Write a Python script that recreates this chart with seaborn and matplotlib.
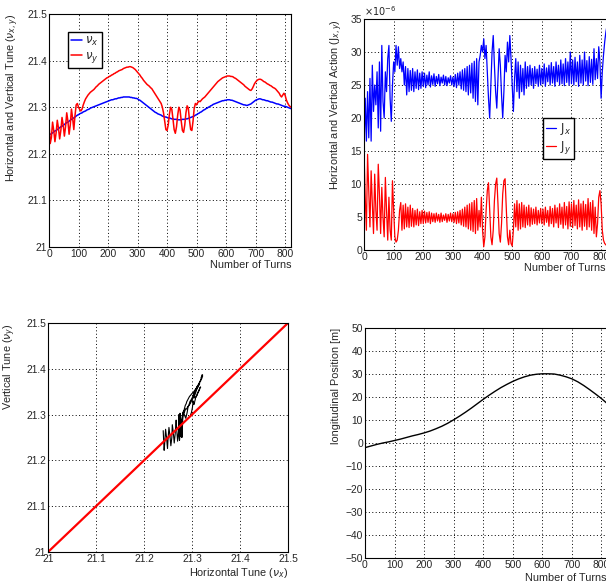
import matplotlib
matplotlib.use("Agg")
import matplotlib.pyplot as plt
import numpy as np
import seaborn as sns
from matplotlib.ticker import MultipleLocator, FormatStrFormatter

# turn number of every sample (one sample every 4 turns)
turns = np.arange(0, 821, 4)

# horizontal tune
nu_x = [
    21.240, 21.242, 21.243, 21.245, 21.247, 21.249, 21.250, 21.252, 21.254, 21.256, 21.258, 21.259, 21.261,
    21.263, 21.265, 21.267, 21.268, 21.270, 21.272, 21.274, 21.276, 21.277, 21.279, 21.281, 21.283,
    21.284, 21.286, 21.287, 21.288, 21.290, 21.291, 21.292, 21.294, 21.295, 21.296, 21.298, 21.299, 21.300,
    21.301, 21.302, 21.303, 21.304, 21.305, 21.306, 21.307, 21.308, 21.309, 21.310, 21.311, 21.312,
    21.313, 21.314, 21.315, 21.316, 21.316, 21.317, 21.318, 21.318, 21.319, 21.320, 21.320, 21.321, 21.321,
    21.322, 21.322, 21.322, 21.322, 21.322, 21.322, 21.321, 21.321, 21.320, 21.320, 21.319, 21.319,
    21.318, 21.316, 21.315, 21.313, 21.311, 21.309, 21.307, 21.305, 21.303, 21.301, 21.299, 21.297, 21.295,
    21.293, 21.291, 21.289, 21.288, 21.286, 21.285, 21.284, 21.283, 21.281, 21.280, 21.279, 21.279,
    21.278, 21.277, 21.277, 21.276, 21.275, 21.275, 21.274, 21.274, 21.274, 21.273, 21.273, 21.273, 21.273,
    21.274, 21.274, 21.274, 21.275, 21.275, 21.276, 21.277, 21.278, 21.279, 21.280, 21.281, 21.283,
    21.284, 21.286, 21.287, 21.289, 21.290, 21.292, 21.294, 21.295, 21.297, 21.298, 21.300, 21.301, 21.303,
    21.304, 21.306, 21.307, 21.308, 21.309, 21.310, 21.311, 21.312, 21.313, 21.314, 21.314, 21.315,
    21.315, 21.316, 21.316, 21.316, 21.315, 21.315, 21.314, 21.313, 21.312, 21.311, 21.310, 21.309, 21.308,
    21.307, 21.306, 21.305, 21.305, 21.304, 21.304, 21.305, 21.306, 21.307, 21.309, 21.311, 21.313,
    21.315, 21.316, 21.317, 21.318, 21.318, 21.317, 21.316, 21.316, 21.315, 21.314, 21.314, 21.313, 21.312,
    21.311, 21.311, 21.310, 21.309, 21.308, 21.307, 21.307, 21.306, 21.305, 21.304, 21.303, 21.302,
    21.302, 21.301, 21.300, 21.299, 21.298, 21.297,
]

# vertical tune
nu_y = [
    21.265, 21.222, 21.235, 21.268, 21.250, 21.226, 21.245, 21.272, 21.255, 21.232, 21.250, 21.278, 21.262,
    21.238, 21.258, 21.288, 21.270, 21.242, 21.262, 21.296, 21.276, 21.252, 21.282, 21.305, 21.308,
    21.300, 21.295, 21.292, 21.296, 21.305, 21.312, 21.318, 21.322, 21.326, 21.329, 21.332, 21.334, 21.336,
    21.338, 21.341, 21.344, 21.346, 21.349, 21.351, 21.353, 21.355, 21.357, 21.359, 21.361, 21.363,
    21.364, 21.366, 21.367, 21.369, 21.370, 21.372, 21.373, 21.375, 21.376, 21.378, 21.379, 21.380, 21.381,
    21.383, 21.384, 21.385, 21.386, 21.386, 21.387, 21.387, 21.386, 21.385, 21.383, 21.381, 21.378,
    21.375, 21.372, 21.369, 21.365, 21.362, 21.358, 21.355, 21.352, 21.349, 21.347, 21.345, 21.342, 21.340,
    21.336, 21.332, 21.328, 21.324, 21.320, 21.316, 21.312, 21.308, 21.300, 21.288, 21.270, 21.252,
    21.250, 21.262, 21.285, 21.300, 21.296, 21.275, 21.252, 21.244, 21.258, 21.283, 21.300, 21.294, 21.270,
    21.250, 21.246, 21.262, 21.288, 21.303, 21.298, 21.272, 21.252, 21.250, 21.270, 21.298, 21.308,
    21.305, 21.310, 21.313, 21.312, 21.315, 21.318, 21.320, 21.322, 21.325, 21.328, 21.331, 21.334, 21.337,
    21.340, 21.343, 21.346, 21.349, 21.352, 21.355, 21.357, 21.359, 21.361, 21.363, 21.364, 21.365,
    21.366, 21.367, 21.367, 21.367, 21.366, 21.366, 21.365, 21.363, 21.362, 21.360, 21.358, 21.356, 21.354,
    21.352, 21.350, 21.348, 21.345, 21.343, 21.341, 21.339, 21.337, 21.336, 21.339, 21.344, 21.350,
    21.354, 21.357, 21.359, 21.360, 21.360, 21.359, 21.357, 21.355, 21.354, 21.352, 21.350, 21.349, 21.347,
    21.346, 21.344, 21.342, 21.341, 21.339, 21.336, 21.333, 21.330, 21.325, 21.322, 21.326, 21.330,
    21.326, 21.316, 21.310, 21.305, 21.302, 21.300,
]

# horizontal action, in units of 1e-6
j_x = [
    15.0, 23.0, 16.5, 24.0, 17.0, 26.0, 16.5, 28.0, 21.0, 25.0, 22.0, 27.0, 18.5,
    28.5, 18.0, 31.0, 22.5, 20.0, 27.0, 24.0, 29.0, 31.0, 23.0, 19.5, 25.0,
    28.5, 27.0, 31.0, 28.0, 30.8, 27.5, 29.0, 27.0, 28.5, 25.0, 27.8, 23.5, 27.5,
    24.0, 27.2, 24.2, 27.5, 24.0, 27.0, 24.5, 27.3, 24.3, 26.8, 24.5, 27.0,
    24.8, 26.8, 24.6, 26.5, 25.0, 27.0, 24.7, 26.4, 25.1, 26.7, 24.8, 26.3, 25.2,
    26.6, 24.9, 26.2, 25.3, 26.5, 25.0, 26.3, 24.9, 26.1, 25.3, 26.4, 25.0,
    26.2, 24.8, 26.6, 24.6, 26.8, 25.0, 27.0, 24.4, 27.3, 24.2, 27.5, 24.0, 27.8,
    23.5, 28.0, 23.8, 28.3, 23.0, 28.6, 22.5, 29.0, 22.0, 28.5, 29.5, 31.0,
    30.0, 32.0, 29.0, 31.0, 27.0, 23.0, 20.0, 25.0, 30.0, 32.5, 28.0, 24.0, 21.5,
    26.0, 30.5, 28.0, 23.5, 20.0, 24.0, 29.5, 27.0, 31.5, 28.5, 32.5, 29.0,
    25.0, 21.0, 26.0, 29.0, 24.0, 28.5, 23.0, 28.0, 24.0, 27.5, 23.5, 28.5, 24.5,
    27.8, 24.8, 28.0, 25.0, 27.5, 24.5, 27.8, 25.2, 27.4, 24.8, 28.0, 25.0,
    27.5, 25.2, 28.2, 24.8, 27.6, 25.5, 28.0, 25.0, 28.4, 25.3, 27.8, 24.8, 28.5,
    25.5, 28.0, 25.0, 28.8, 25.2, 28.2, 24.9, 29.0, 25.4, 28.5, 25.0, 30.0,
    25.2, 28.8, 25.0, 29.2, 25.5, 28.5, 24.8, 29.5, 25.3, 28.8, 25.0, 30.0, 25.6,
    28.7, 24.9, 29.3, 25.4, 28.9, 25.1, 30.5, 25.8, 29.0, 26.0, 30.8, 28.5,
    23.0, 27.0, 29.5, 31.5, 33.0, 34.0,
]

# vertical action, in units of 1e-6
j_y = [
    15.0, 8.0, 3.0, 14.5, 9.0, 3.5, 12.0, 7.0, 2.5, 11.5, 6.0, 3.0, 13.0,
    8.5, 2.5, 9.5, 5.0, 2.0, 11.0, 6.0, 1.5, 8.0, 3.0, 1.5, 10.5,
    6.0, 2.0, 1.2, 1.5, 3.0, 6.0, 7.2, 3.0, 6.8, 3.2, 7.0, 3.5, 6.5,
    3.4, 6.8, 3.6, 6.3, 3.5, 6.0, 3.8, 6.2, 3.7, 5.8, 4.0, 6.0,
    4.0, 5.9, 4.1, 5.7, 4.2, 5.8, 4.0, 5.6, 4.3, 5.5, 4.2, 5.6, 4.4,
    5.4, 4.2, 5.6, 4.3, 5.3, 4.5, 5.5, 4.2, 5.4, 4.4, 5.6, 4.3,
    5.5, 4.2, 5.7, 4.0, 5.8, 4.1, 6.0, 3.8, 6.2, 3.6, 6.5, 3.5, 6.8,
    3.2, 7.0, 3.0, 7.2, 2.8, 7.5, 2.5, 7.8, 3.0, 6.0, 3.5, 8.0,
    3.0, 0.5, 2.0, 6.0, 9.0, 10.2, 6.0, 2.0, 0.8, 3.0, 7.5, 10.0, 10.9,
    7.0, 2.5, 1.2, 4.0, 8.5, 10.5, 10.8, 6.5, 2.0, 0.8, 3.0, 1.0,
    0.6, 3.0, 7.0, 3.5, 7.5, 3.0, 7.0, 3.2, 7.2, 3.5, 6.8, 3.4, 6.5,
    3.8, 6.8, 3.6, 6.4, 3.9, 6.2, 4.0, 6.5, 3.8, 6.0, 4.1, 6.3,
    4.0, 6.2, 3.8, 6.5, 4.2, 6.0, 3.6, 6.6, 4.0, 6.3, 3.5, 6.8, 4.1,
    6.4, 3.4, 7.0, 3.9, 6.5, 3.3, 7.2, 3.8, 6.6, 3.2, 7.3, 3.6,
    7.0, 3.4, 7.5, 3.7, 6.8, 3.2, 7.6, 3.5, 7.0, 3.0, 7.4, 3.6, 6.9,
    3.1, 7.8, 3.5, 7.2, 3.0, 7.5, 2.5, 6.5, 2.0, 4.0, 8.0, 9.0,
    7.0, 3.0, 1.5, 1.0, 0.8, 0.6,
]

# diagonal nu_y = nu_x
diag = [21.0, 21.5]

# longitudinal position, one sample every 20 turns
pos_turns = np.arange(0, 821, 20)
position = [
    -2.0, -1.3, -0.6, 0.0, 0.5, 1.1, 1.7, 2.4, 3.1, 3.7, 4.4, 5.2, 6.2, 7.3,
    8.6, 10.1, 11.7, 13.4, 15.2, 17.1, 19.0, 20.8, 22.5, 24.1, 25.5, 26.8, 27.9,
    28.8, 29.5, 29.9, 30.1, 30.1, 30.0, 29.5, 28.8, 27.9, 26.6, 25.0, 23.2, 21.3,
    19.3, 17.1,
]

sns.set_style("white")
plt.rcParams['font.family'] = ['Liberation Sans', 'DejaVu Sans']
plt.rcParams['mathtext.fontset'] = 'dejavusans'

fig = plt.figure(figsize=(6.06, 5.82), dpi=100)
ax1 = fig.add_axes([0.0809, 0.5756, 0.3993, 0.4003])
ax2 = fig.add_axes([0.6007, 0.5704, 0.4010, 0.3969])
ax3 = fig.add_axes([0.0792, 0.0515, 0.3960, 0.3935])
ax4 = fig.add_axes([0.6023, 0.0412, 0.4000, 0.3952])

lab_fs = 7.8
tick_fs = 7.4


def root_style(ax, xmaj, xmin, ymaj, ymin):
    ax.xaxis.set_major_locator(MultipleLocator(xmaj))
    ax.xaxis.set_minor_locator(MultipleLocator(xmin))
    ax.yaxis.set_major_locator(MultipleLocator(ymaj))
    ax.yaxis.set_minor_locator(MultipleLocator(ymin))
    ax.tick_params(which='both', direction='in', top=False, right=False, labelsize=tick_fs)
    ax.tick_params(which='major', length=5, width=0.7)
    ax.tick_params(which='minor', length=2.5, width=0.7)
    ax.tick_params(axis='x', pad=1.5)
    ax.tick_params(axis='y', pad=1.5)
    ax.grid(True, which='major', linestyle=(0, (1, 2.5)), color='black', linewidth=0.7)
    for s in ax.spines.values():
        s.set_linewidth(0.8)
        s.set_color('black')


# top left: tunes
sns.lineplot(x=turns, y=nu_x, ax=ax1, color='blue', linewidth=1.1, label=r'$\nu_x$')
sns.lineplot(x=turns, y=nu_y, ax=ax1, color='red', linewidth=1.1, label=r'$\nu_y$')
ax1.set_xlim(0, 820)
ax1.set_ylim(21.0, 21.5)
root_style(ax1, 100, 20, 0.1, 0.02)
ax1.yaxis.set_major_formatter(FormatStrFormatter('%g'))
ax1.set_xlabel('Number of Turns', fontsize=lab_fs, loc='right')
ax1.set_ylabel(r'Horizontal and Vertical Tune ($\nu_{x,y}$)', fontsize=lab_fs, loc='top')
ax1.xaxis.set_label_coords(1.0, -0.055)
ax1.yaxis.set_label_coords(-0.115, 1.0)
ax1.legend(loc='upper left', bbox_to_anchor=(0.079, 0.923), borderaxespad=0, frameon=True,
           fancybox=False, edgecolor='black', framealpha=1, fontsize=8.5, handlelength=0.9,
           handletextpad=0.3, borderpad=0.25, labelspacing=0.15)

# top right: actions
sns.lineplot(x=turns, y=j_x, ax=ax2, color='blue', linewidth=0.9, label=r'$\mathrm{J}_x$')
sns.lineplot(x=turns, y=j_y, ax=ax2, color='red', linewidth=0.9, label=r'$\mathrm{J}_y$')
ax2.set_xlim(0, 820)
ax2.set_ylim(0, 35)
root_style(ax2, 100, 20, 5, 1)
ax2.set_xlabel('Number of Turns', fontsize=lab_fs, loc='right')
ax2.set_ylabel(r'Horizontal and Vertical Action ($\mathrm{J}_{x,y}$)', fontsize=lab_fs, loc='top')
ax2.xaxis.set_label_coords(0.995, -0.055)
ax2.yaxis.set_label_coords(-0.08, 1.0)
ax2.text(0.0, 1.005, r'$\times10^{-6}$', transform=ax2.transAxes, fontsize=7,
         ha='left', va='bottom')
ax2.legend(loc='upper left', bbox_to_anchor=(0.736, 0.571), borderaxespad=0, frameon=True,
           fancybox=False, edgecolor='black', framealpha=1, fontsize=8.5, handlelength=0.9,
           handletextpad=0.3, borderpad=0.25, labelspacing=0.15)

# bottom left: tune diagram
sns.lineplot(x=nu_x, y=nu_y, ax=ax3, color='black', linewidth=0.8, sort=False, estimator=None)
sns.lineplot(x=diag, y=diag, ax=ax3, color='red', linewidth=1.6, sort=False, estimator=None)
ax3.set_xlim(21.0, 21.5)
ax3.set_ylim(21.0, 21.5)
root_style(ax3, 0.1, 0.02, 0.1, 0.02)
ax3.xaxis.set_major_formatter(FormatStrFormatter('%g'))
ax3.yaxis.set_major_formatter(FormatStrFormatter('%g'))
ax3.set_xlabel(r'Horizontal Tune ($\nu_x$)', fontsize=lab_fs, loc='right')
ax3.set_ylabel(r'Vertical Tune ($\nu_y$)', fontsize=lab_fs, loc='top')
ax3.xaxis.set_label_coords(1.0, -0.06)
ax3.yaxis.set_label_coords(-0.125, 1.0)

# bottom right: longitudinal position
sns.lineplot(x=pos_turns, y=position, ax=ax4, color='black', linewidth=1.0)
ax4.set_xlim(0, 820)
ax4.set_ylim(-50, 50)
root_style(ax4, 100, 20, 10, 2)
ax4.set_xlabel('Number of Turns', fontsize=lab_fs, loc='right')
ax4.set_ylabel('longitudinal Position [m]', fontsize=lab_fs, loc='top')
ax4.xaxis.set_label_coords(0.995, -0.065)
ax4.yaxis.set_label_coords(-0.1, 1.0)

fig.savefig('out.png', dpi=100)
